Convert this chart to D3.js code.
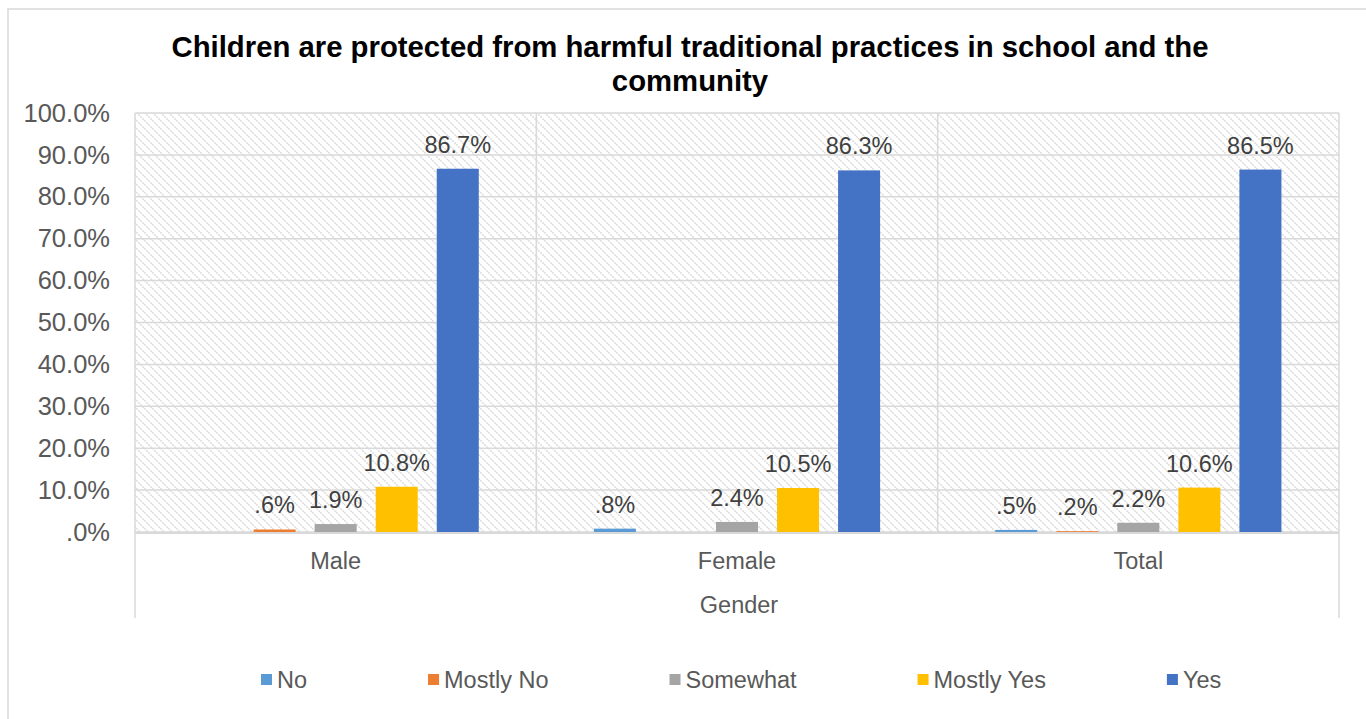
<!DOCTYPE html>
<html>
<head>
<meta charset="utf-8">
<script src="https://cdn.jsdelivr.net/npm/d3@7"></script>
<style>
  html, body { margin: 0; padding: 0; background: #fff; }
  svg { display: block; font-family: "Liberation Sans", Arial, sans-serif; }
</style>
</head>
<body>
<svg id="chart" width="1366" height="719"></svg>
<script>
const categories = ["Male", "Female", "Total"];
const series = ["No", "Mostly No", "Somewhat", "Mostly Yes", "Yes"];
const colors = ["#5B9BD5", "#ED7D31", "#A5A5A5", "#FFC000", "#4472C4"];
const valuesNo        = [0.000, 0.008, 0.005];
const valuesMostlyNo  = [0.006, 0.000, 0.002];
const valuesSomewhat  = [0.019, 0.024, 0.022];
const valuesMostlyYes = [0.108, 0.105, 0.106];
const valuesYes       = [0.867, 0.863, 0.865];
const yTicks = [0, 0.1, 0.2, 0.3, 0.4, 0.5, 0.6, 0.7, 0.8, 0.9, 1.0];
const titleLines = ["Children are protected from harmful traditional practices in school and the", "community"];
const axisTitle = "Gender";

const seriesValues = [valuesNo, valuesMostlyNo, valuesSomewhat, valuesMostlyYes, valuesYes];

const svg = d3.select("#chart");
const W = 1366, H = 719;
const plot = { left: 135, right: 1339, top: 113, bottom: 532 };

// outer chart border
svg.append("rect").attr("x", 8).attr("y", 9).attr("width", W + 10).attr("height", H + 10)
  .attr("fill", "#fff").attr("stroke", "#d9d9d9").attr("stroke-width", 1.5);

// hatch pattern
const defs = svg.append("defs");
const pat = defs.append("pattern").attr("id", "hatch").attr("patternUnits", "userSpaceOnUse")
  .attr("width", 8).attr("height", 8);
pat.append("rect").attr("width", 8).attr("height", 8).attr("fill", "#fff");
pat.append("path").attr("d", "M-2,-2 L10,10 M-2,6 L2,10 M6,-2 L10,2")
  .attr("stroke", "#dcdcdc").attr("stroke-width", 1.5).attr("stroke-dasharray", "2,1");

const fmt = v => d3.format(".1%")(v).replace(/^0\./, ".");

const y = d3.scaleLinear().domain([0, 1]).range([plot.bottom, plot.top]);
const x0 = d3.scaleBand().domain(categories).range([plot.left, plot.right]).paddingInner(0).paddingOuter(0);
const x1 = d3.scaleBand().domain(series).range([0, x0.bandwidth()]).paddingInner(19 / 61).paddingOuter(0.943);

// plot background
svg.append("rect").attr("x", plot.left).attr("y", plot.top)
  .attr("width", plot.right - plot.left).attr("height", plot.bottom - plot.top)
  .attr("fill", "url(#hatch)");

// gridlines
svg.append("g").selectAll("line").data(yTicks).join("line")
  .attr("x1", plot.left).attr("x2", plot.right)
  .attr("y1", d => y(d)).attr("y2", d => y(d))
  .attr("stroke", "#d9d9d9").attr("stroke-width", 1.5);

// category dividers
const dividers = categories.map(c => x0(c)).concat([plot.right]);
svg.append("g").selectAll("line").data(dividers).join("line")
  .attr("x1", d => d).attr("x2", d => d)
  .attr("y1", plot.top)
  .attr("y2", (d, i) => (i === 0 || i === dividers.length - 1) ? 618 : plot.bottom)
  .attr("stroke", "#d9d9d9").attr("stroke-width", 1.5);

// y axis labels
const yAxis = d3.axisLeft(y).tickValues(yTicks).tickFormat(fmt).tickSize(0).tickPadding(25);
const gy = svg.append("g").attr("transform", `translate(${plot.left},0)`).call(yAxis);
gy.select(".domain").remove();
gy.selectAll("text").attr("font-size", 25.5).attr("fill", "#595959").attr("font-family", "Liberation Sans, Arial, sans-serif");

// bars
const barData = [];
categories.forEach((c, ci) => {
  series.forEach((s, si) => barData.push({ c, s, si, v: seriesValues[si][ci] }));
});
const gBars = svg.append("g");
gBars.selectAll("rect").data(barData).join("rect")
  .attr("x", d => x0(d.c) + x1(d.s))
  .attr("width", x1.bandwidth())
  .attr("y", d => y(d.v))
  .attr("height", d => y(0) - y(d.v))
  .attr("fill", d => colors[d.si]);

// data labels
gBars.selectAll("text").data(barData.filter(d => d.v > 0)).join("text")
  .attr("x", d => x0(d.c) + x1(d.s) + x1.bandwidth() / 2)
  .attr("y", d => y(d.v) - 16)
  .attr("text-anchor", "middle")
  .attr("font-size", 23.5).attr("fill", "#404040")
  .text(d => fmt(d.v));

// x axis line
svg.append("line").attr("x1", plot.left).attr("x2", plot.right)
  .attr("y1", plot.bottom + 1).attr("y2", plot.bottom + 1)
  .attr("stroke", "#d9d9d9").attr("stroke-width", 2);

// category labels
const xAxis = d3.axisBottom(x0).tickSize(0).tickPadding(20);
const gx = svg.append("g").attr("transform", `translate(0,${plot.bottom})`).call(xAxis);
gx.select(".domain").remove();
gx.selectAll("text").attr("font-size", 23.5).attr("fill", "#595959").attr("font-family", "Liberation Sans, Arial, sans-serif");

// axis title
svg.append("text").attr("x", (plot.left + plot.right) / 2 + 2).attr("y", 613)
  .attr("text-anchor", "middle").attr("font-size", 23.5).attr("fill", "#595959").text(axisTitle);

// title
svg.append("g").selectAll("text").data(titleLines).join("text")
  .attr("x", 690).attr("y", (d, i) => 57 + i * 34)
  .attr("text-anchor", "middle").attr("font-size", 29.3).attr("font-weight", "bold").attr("fill", "#000")
  .text(d => d);

// legend
const gLeg = svg.append("g");
let lx = 261;
series.forEach((s, i) => {
  gLeg.append("rect").attr("x", lx).attr("y", 674).attr("width", 11).attr("height", 11).attr("fill", colors[i]);
  const t = gLeg.append("text").attr("x", lx + 16).attr("y", 688)
    .attr("font-size", 23.5).attr("fill", "#595959").text(s);
  const w = t.node().getComputedTextLength();
  lx = lx + 16 + w + 121;
});
</script>
</body>
</html>
